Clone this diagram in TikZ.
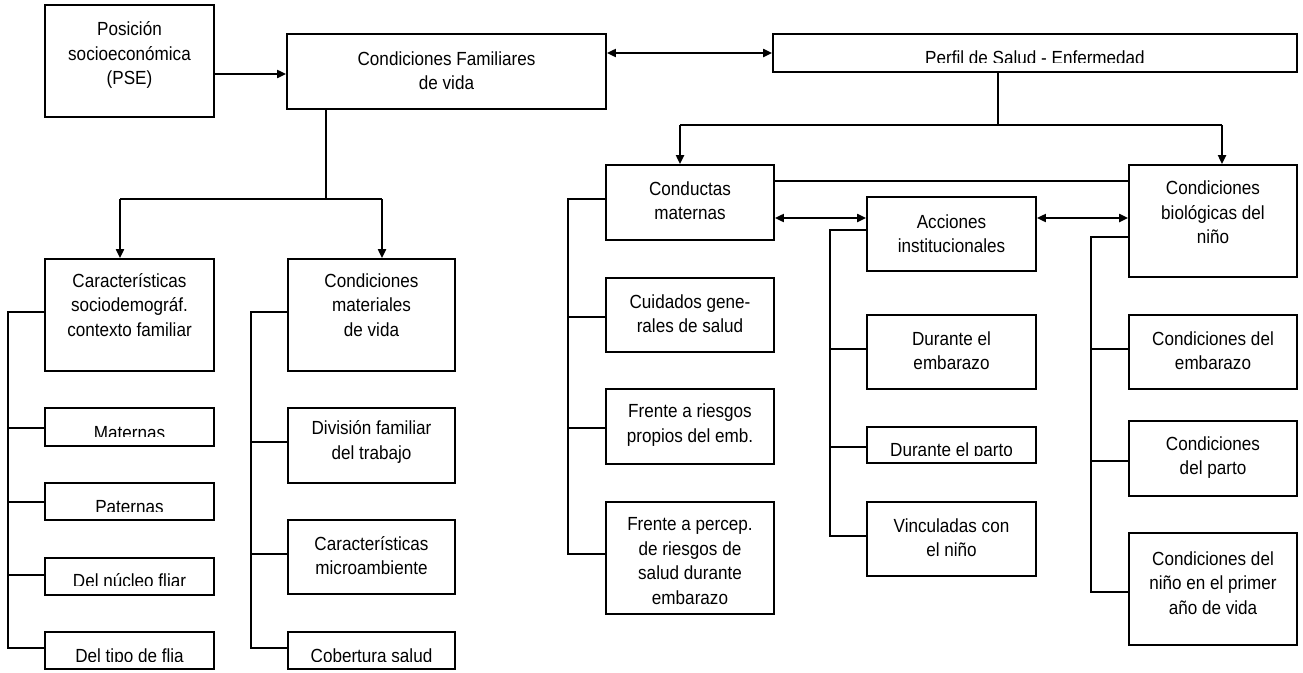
\documentclass[tikz,border=0pt]{standalone}
\usepackage{fontspec}
\setmainfont[FakeStretch=0.9]{Liberation Sans}
\usetikzlibrary{arrows.meta}
\tikzset{
  rbox/.style={draw, line width=1.8pt, inner sep=0pt, rectangle},
  lbl/.style={align=center, inner sep=0pt, font=\fontsize{19}{24.5}\selectfont},
  conn/.style={line width=2pt},
  arr/.style={conn, -{Triangle[length=9pt,width=8pt]}},
  darr/.style={conn, {Triangle[length=9pt,width=8pt]}-{Triangle[length=9pt,width=8pt]}}
}
% name, x1, y1, x2, y2, text-centre-y, text
\newcommand{\bx}[7]{%
  \node[rbox, minimum width={(#4)-(#2)}, minimum height={(#5)-(#3)}] (#1) at ({((#2)+(#4))/2},{((#3)+(#5))/2}) {};
  \node[lbl] (#1t) at ({((#2)+(#4))/2},#6) {#7};}
% name, x1, y1, x2, y2, clip-y, baseline-y, text
\newcommand{\cbx}[8]{%
  \node[rbox, minimum width={(#4)-(#2)}, minimum height={(#5)-(#3)}] (#1) at ({((#2)+(#4))/2},{((#3)+(#5))/2}) {};
  \begin{scope}
    \clip (#2,#3) rectangle (#4,#6);
    \node[lbl, anchor=base] (#1t) at ({((#2)+(#4))/2},#7) {#8};
  \end{scope}}
\begin{document}
\begin{tikzpicture}[x=1pt,y=-1pt]
\useasboundingbox (0,0) rectangle (1303,672);
% top row
\bx{pse}{45}{5}{214}{117}{55}{Posición\\socioeconómica\\(PSE)}
\bx{cfam}{287}{34}{606}{109}{70.5}{Condiciones Familiares\\de vida}
\cbx{perfil}{773}{34}{1297}{72}{62}{64.5}{Perfil de Salud - Enfermedad}
% left branch
\bx{csoc}{45}{259}{214}{371}{305}{Características\\sociodemográf.\\contexto familiar}
\bx{cmat}{288}{259}{455}{371}{305}{Condiciones\\materiales\\de vida}
\cbx{mat}{45}{408}{214}{446}{436}{439}{Maternas}
\cbx{pat}{45}{483}{214}{520}{511}{513}{Paternas}
\cbx{nuc}{45}{558}{214}{595}{585}{587}{Del núcleo fliar}
\cbx{tipo}{45}{632}{214}{669}{661}{662}{Del tipo de flia}
\bx{div}{288}{408}{455}{483}{442}{División familiar\\del trabajo}
\bx{micro}{288}{520}{455}{594}{555.5}{Características\\microambiente}
\cbx{cob}{288}{632}{455}{669}{661}{662}{Cobertura salud}
% right branch
\bx{cond}{606}{165}{774}{240}{200.5}{Conductas\\maternas}
\bx{cuid}{606}{278}{774}{352}{313.5}{Cuidados gene-\\rales de salud}
\bx{friesg}{606}{389}{774}{464}{425}{Frente a riesgos\\propios del emb.}
\bx{fperc}{606}{502}{774}{614}{561}{Frente a percep.\\de riesgos de\\salud durante\\embarazo}
\bx{acc}{867}{197}{1036}{271}{233.5}{Acciones\\institucionales}
\bx{demb}{867}{315}{1036}{389}{350.5}{Durante el\\embarazo}
\cbx{dpar}{867}{427}{1036}{463}{455}{456}{Durante el parto}
\bx{vinc}{867}{502}{1036}{576}{537.5}{Vinculadas con\\el niño}
\bx{cbio}{1129}{165}{1297}{277}{212.5}{Condiciones\\biológicas del\\niño}
\bx{cemb}{1129}{315}{1297}{389}{350.5}{Condiciones del\\embarazo}
\bx{cpar}{1129}{421}{1297}{496}{457.5}{Condiciones\\del parto}
\bx{cnino}{1129}{533}{1297}{645}{583}{Condiciones del\\niño en el primer\\año de vida}
% bus coordinates
\coordinate (b1) at (8,0);
\coordinate (b2) at (251,0);
\coordinate (b3) at (568,0);
\coordinate (b4) at (830,0);
\coordinate (b5) at (1091,0);
% top connectors
\draw[arr] (pse.east |- 0,74) -- (cfam.west |- 0,74);
\draw[darr] (cfam.east |- 0,53) -- (perfil.west |- 0,53);
% left tree
\draw[conn] (cfam.south -| 326,0) -- (326,199);
\draw[conn] (120,199) -- (382,199);
\draw[arr] (120,199) -- (csoc.north -| 120,0);
\draw[arr] (382,199) -- (cmat.north -| 382,0);
% right tree
\draw[conn] (perfil.south -| 998,0) -- (998,125);
\draw[conn] (680,125) -- (1222,125);
\draw[arr] (680,125) -- (cond.north -| 680,0);
\draw[arr] (1222,125) -- (cbio.north -| 1222,0);
\draw[conn] (cond.east |- 0,181) -- (cbio.west |- 0,181);
\draw[darr] (cond.east |- 0,218) -- (acc.west |- 0,218);
\draw[darr] (acc.east |- 0,218) -- (cbio.west |- 0,218);
% buses
\draw[conn] (csoc.west |- 0,312) -| (b1 |- 0,648) -- (tipo.west |- 0,648);
\draw[conn] (b1 |- 0,428) -- (mat.west |- 0,428);
\draw[conn] (b1 |- 0,502) -- (pat.west |- 0,502);
\draw[conn] (b1 |- 0,575) -- (nuc.west |- 0,575);
\draw[conn] (cmat.west |- 0,312) -| (b2 |- 0,648) -- (cob.west |- 0,648);
\draw[conn] (b2 |- 0,442) -- (div.west |- 0,442);
\draw[conn] (b2 |- 0,554) -- (micro.west |- 0,554);
\draw[conn] (cond.west |- 0,199) -| (b3 |- 0,554) -- (fperc.west |- 0,554);
\draw[conn] (b3 |- 0,317) -- (cuid.west |- 0,317);
\draw[conn] (b3 |- 0,428) -- (friesg.west |- 0,428);
\draw[conn] (acc.west |- 0,230) -| (b4 |- 0,536) -- (vinc.west |- 0,536);
\draw[conn] (b4 |- 0,349) -- (demb.west |- 0,349);
\draw[conn] (b4 |- 0,447) -- (dpar.west |- 0,447);
\draw[conn] (cbio.west |- 0,237) -| (b5 |- 0,592) -- (cnino.west |- 0,592);
\draw[conn] (b5 |- 0,349) -- (cemb.west |- 0,349);
\draw[conn] (b5 |- 0,461) -- (cpar.west |- 0,461);
\end{tikzpicture}
\end{document}
